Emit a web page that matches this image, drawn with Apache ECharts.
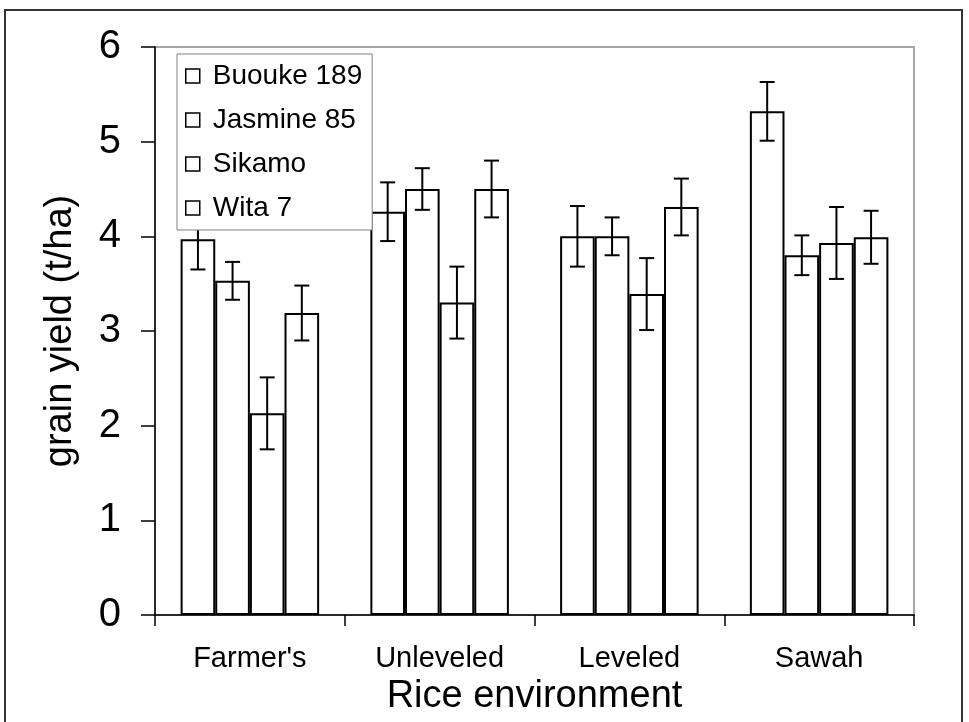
<!DOCTYPE html>
<html>
<head>
<meta charset="utf-8">
<script src="https://cdn.jsdelivr.net/npm/echarts@6/dist/echarts.min.js"></script>
<style>html,body{margin:0;padding:0;background:#fff;}#c{width:969px;height:722px;}</style>
</head>
<body>
<div id="c"></div>
<script>
const categories = ["Farmer's", "Unleveled", "Leveled", "Sawah"];
const seriesNames = ["Buouke 189", "Jasmine 85", "Sikamo", "Wita 7"];
const buouke = [3.97, 4.26, 4.00, 5.32];
const buoukeErr = [0.32, 0.31, 0.32, 0.31];
const jasmine = [3.53, 4.50, 4.00, 3.80];
const jasmineErr = [0.20, 0.22, 0.20, 0.21];
const sikamo = [2.13, 3.30, 3.39, 3.93];
const sikamoErr = [0.38, 0.38, 0.38, 0.38];
const wita = [3.19, 4.50, 4.31, 3.99];
const witaErr = [0.29, 0.30, 0.30, 0.28];
const yTicks = [0, 1, 2, 3, 4, 5, 6];

const values = [buouke, jasmine, sikamo, wita];
const errors = [buoukeErr, jasmineErr, sikamoErr, witaErr];
const catGap = 0.27;
const FONT = '"Liberation Sans", Arial, sans-serif';

const chart = echarts.init(document.getElementById('c'), null, {renderer: 'canvas'});

const series = [];
values.forEach((vals, i) => {
  series.push({
    name: seriesNames[i],
    type: 'bar',
    data: vals,
    barGap: '0%',
    barCategoryGap: (catGap * 100) + '%',
    itemStyle: {color: '#ffffff', borderColor: '#000000', borderWidth: 2},
    emphasis: {disabled: true},
    z: 2
  });
});
values.forEach((vals, i) => {
  series.push({
    name: 'err' + i,
    type: 'custom',
    data: vals.map((v, j) => [j, v, errors[i][j]]),
    encode: {x: 0, y: 1},
    z: 3,
    silent: true,
    renderItem: function (params, api) {
      const x = api.value(0), v = api.value(1), e = api.value(2);
      const c = api.coord([x, v]);
      const top = api.coord([x, v + e]);
      const bot = api.coord([x, v - e]);
      const catW = api.size([1, 0])[0];
      const bw = catW * (1 - catGap) / 4;
      const cx = c[0] + (i - 1.5) * bw;
      const cap = 7.5;
      const st = {stroke: '#000', lineWidth: 2};
      return {
        type: 'group',
        children: [
          {type: 'line', shape: {x1: cx, y1: top[1], x2: cx, y2: bot[1]}, style: st},
          {type: 'line', shape: {x1: cx - cap, y1: top[1], x2: cx + cap, y2: top[1]}, style: st},
          {type: 'line', shape: {x1: cx - cap, y1: bot[1], x2: cx + cap, y2: bot[1]}, style: st}
        ]
      };
    }
  });
});

chart.setOption({
  animation: false,
  backgroundColor: '#ffffff',
  textStyle: {fontFamily: FONT},
  grid: {
    left: 155, right: 55, top: 47, bottom: 107,
    show: true, borderColor: '#a6a6a6', borderWidth: 2, backgroundColor: 'transparent'
  },
  legend: {
    data: seriesNames,
    orient: 'vertical',
    left: 177, top: 54,
    itemWidth: 14, itemHeight: 14,
    itemGap: 14,
    itemTextGap: 13,
    padding: [7, 10, 7, 8],
    backgroundColor: '#ffffff',
    borderColor: '#808080',
    borderWidth: 1,
    icon: 'rect',
    itemStyle: {color: '#ffffff', borderColor: '#000000', borderWidth: 1.5},
    textStyle: {fontSize: 28, color: '#000', fontFamily: FONT, lineHeight: 30, padding: [0, 0, 0, 8]},
    selectedMode: false,
    z: 10
  },
  xAxis: {
    type: 'category',
    data: categories,
    name: 'Rice environment',
    nameLocation: 'middle',
    nameGap: 56,
    nameTextStyle: {fontSize: 38, color: '#000', fontFamily: FONT},
    axisLine: {show: true, lineStyle: {color: '#000', width: 1.5}},
    axisTick: {show: true, length: 11, lineStyle: {color: '#000', width: 1.5}},
    axisLabel: {fontSize: 29, color: '#000', margin: 29, fontFamily: FONT},
    splitLine: {show: false}
  },
  yAxis: {
    type: 'value',
    min: yTicks[0], max: yTicks[yTicks.length - 1], interval: 1,
    name: 'grain yield (t/ha)',
    nameLocation: 'middle',
    nameGap: 75,
    nameRotate: 90,
    nameTextStyle: {fontSize: 38, color: '#000', fontFamily: FONT},
    axisLine: {show: true, lineStyle: {color: '#000', width: 1.5}},
    axisTick: {show: true, length: 14, lineStyle: {color: '#000', width: 1.5}},
    axisLabel: {fontSize: 40, color: '#000', margin: 34, fontFamily: FONT},
    splitLine: {show: false}
  },
  graphic: [{
    type: 'rect',
    shape: {x: 5, y: 10, width: 957, height: 730},
    style: {fill: 'none', stroke: '#333', lineWidth: 2},
    silent: true,
    z: 100
  }],
  series: series
});
</script>
</body>
</html>
